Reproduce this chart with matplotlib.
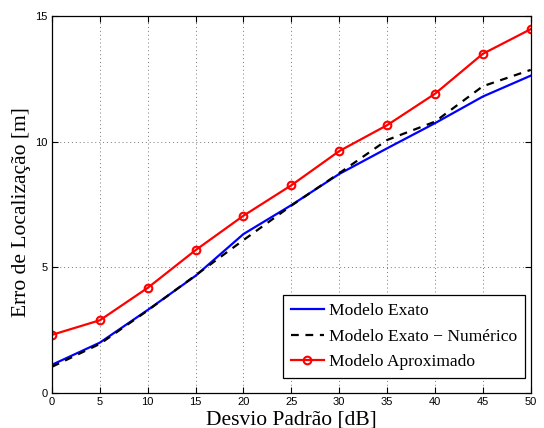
import numpy as np
import matplotlib
matplotlib.use("Agg")
import matplotlib.pyplot as plt

# Desvio padrão (dB)
desvio = [0, 5, 10, 15, 20, 25, 30, 35, 40, 45, 50]

# Erro de localização (m)
exato = [1.12, 2.00, 3.30, 4.66, 6.32, 7.47, 8.71, 9.73, 10.73, 11.79, 12.62]
exato_num = [1.04, 1.95, 3.28, 4.68, 6.08, 7.45, 8.74, 10.06, 10.79, 12.20, 12.85]
aproximado = [2.31, 2.89, 4.18, 5.68, 7.05, 8.26, 9.62, 10.65, 11.90, 13.49, 14.47]

serif = ['Liberation Serif', 'DejaVu Serif']
sans = ['Liberation Sans', 'DejaVu Sans']

fig = plt.figure(figsize=(5.44, 4.28), dpi=100)
ax = fig.add_axes([0.0956, 0.082, 0.880, 0.881])

ax.plot(desvio, exato, color='blue', lw=1.6, label='Modelo Exato')
ax.plot(desvio, exato_num, color='black', lw=1.6, ls=(0, (3.5, 3)),
        label='Modelo Exato \u2212 Numérico')
ax.plot(desvio, aproximado, color='red', lw=1.6, marker='o', ms=5.5,
        mfc='none', mew=1.5, label='Modelo Aproximado')

ax.set_xlim(0, 50)
ax.set_ylim(0, 15)
ax.set_xticks(np.arange(0, 51, 5))
ax.set_yticks([0, 5, 10, 15])
ax.grid(True, ls=(0, (1, 3)), color='#777777', lw=0.7)
ax.tick_params(direction='in', top=True, right=True, length=4, width=0.8,
               labelsize=8, pad=3)
for lab in ax.get_xticklabels() + ax.get_yticklabels():
    lab.set_family(sans)
for s in ax.spines.values():
    s.set_linewidth(0.9)

ax.set_xlabel('Desvio Padrão [dB]', family=serif, fontsize=15.5, labelpad=2.5)
ax.set_ylabel('Erro de Localização [m]', family=serif, fontsize=15.5)
ax.yaxis.set_label_coords(-0.043, 0.48)

leg = ax.legend(loc='lower right', bbox_to_anchor=(0.9875, 0.04),
                borderaxespad=0, prop={'family': serif, 'size': 12.6},
                fancybox=False, edgecolor='black', framealpha=1,
                handlelength=1.9, handletextpad=0.3, borderpad=0.42,
                labelspacing=0.54)
leg.get_frame().set_linewidth(0.9)

fig.savefig('out.png', dpi=100)
